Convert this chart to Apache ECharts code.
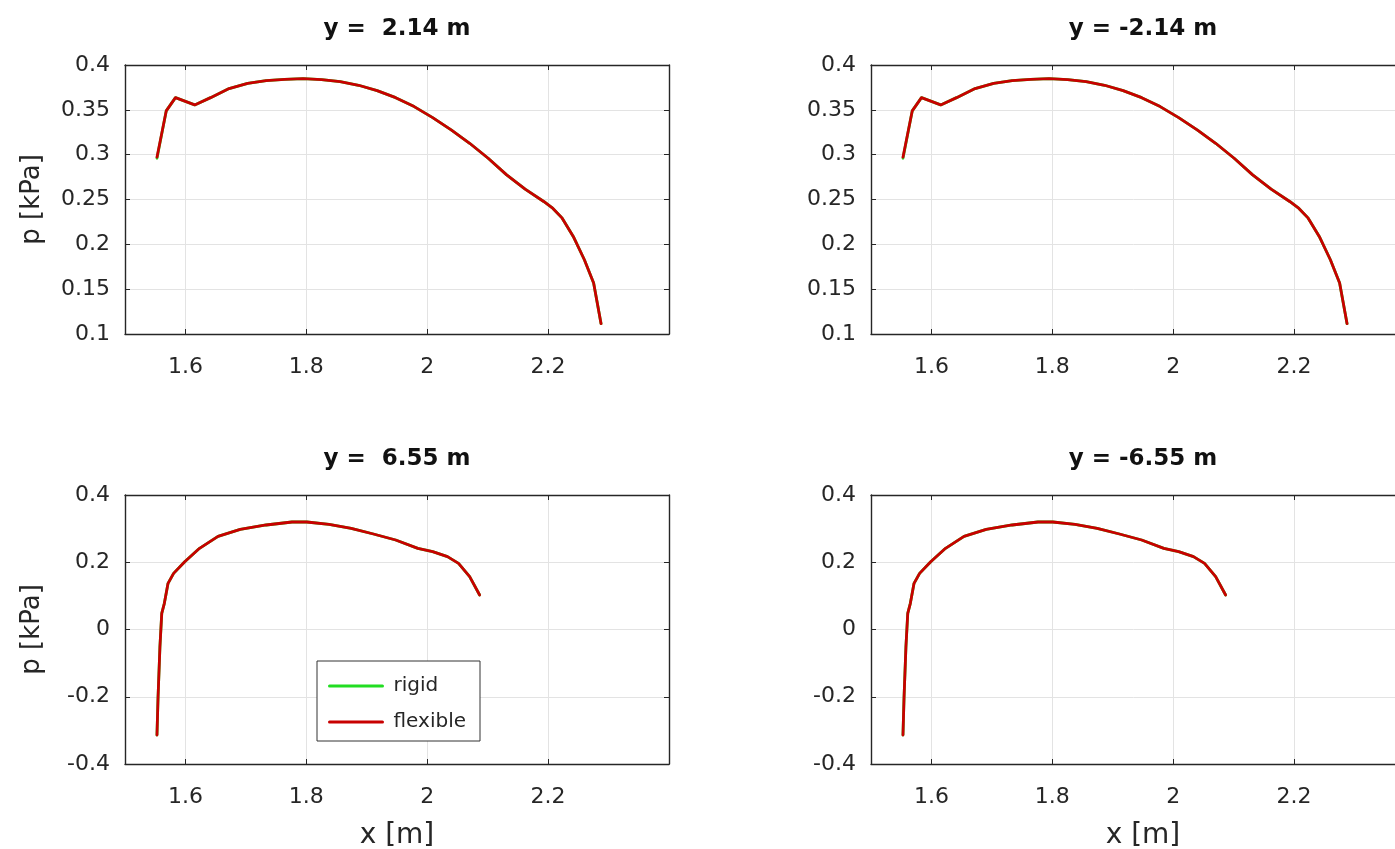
<!DOCTYPE html>
<html>
<head>
<meta charset="utf-8">
<script src="https://cdn.jsdelivr.net/npm/echarts@6/dist/echarts.min.js"></script>
<style>
html,body{margin:0;padding:0;background:#fff;}
#c{width:1395px;height:849px;}
</style>
</head>
<body>
<div id="c"></div>
<script>
// ---- data ----
// y = +/-2.14 m (upper panels)
const xUpper = [1.5529,1.5682,1.5835,1.6153,1.6416,1.6722,1.7029,1.7335,1.7641,1.7947,1.8253,1.8559,1.8865,1.9171,1.9478,1.9784,2.0090,2.0396,2.0702,2.1008,2.1314,2.1620,2.1927,2.2080,2.2233,2.2416,2.2600,2.2753,2.2876];
const pUpperFlexible = [0.2972,0.3488,0.3636,0.3555,0.3636,0.3737,0.3796,0.3826,0.3840,0.3848,0.3837,0.3814,0.3774,0.3714,0.3636,0.3536,0.3413,0.3276,0.3127,0.2960,0.2775,0.2615,0.2478,0.2400,0.2292,0.2088,0.1828,0.1568,0.1115];
const pUpperRigid    = [0.2960,0.3488,0.3636,0.3555,0.3636,0.3737,0.3796,0.3826,0.3840,0.3848,0.3837,0.3814,0.3774,0.3714,0.3636,0.3536,0.3413,0.3276,0.3127,0.2960,0.2775,0.2615,0.2478,0.2400,0.2292,0.2088,0.1828,0.1568,0.1115];
// y = +/-6.55 m (lower panels)
const xLower = [1.5529,1.5547,1.5578,1.5608,1.5651,1.5712,1.5804,1.5988,1.6233,1.6539,1.6906,1.7335,1.7763,1.8008,1.8376,1.8743,1.9110,1.9478,1.9845,2.0090,2.0335,2.0518,2.0702,2.0867];
const pLowerFlexible = [-0.3138,-0.1998,-0.0511,0.0481,0.0778,0.1373,0.1670,0.2017,0.2414,0.2771,0.2979,0.3108,0.3197,0.3197,0.3128,0.3009,0.2840,0.2662,0.2414,0.2315,0.2166,0.1968,0.1571,0.1026];
const pLowerRigid    = [-0.3138,-0.1998,-0.0511,0.0481,0.0778,0.1373,0.1670,0.2017,0.2414,0.2771,0.2979,0.3108,0.3197,0.3197,0.3128,0.3009,0.2840,0.2662,0.2414,0.2315,0.2166,0.1968,0.1571,0.1026];

const panelTitles = ['y =  2.14 m', 'y = -2.14 m', 'y =  6.55 m', 'y = -6.55 m'];
const xTickValues = [1.6, 1.8, 2, 2.2];
const xRange = [1.5, 2.4];
const yRangeUpper = [0.1, 0.4], yStepUpper = 0.05;
const yRangeLower = [-0.4, 0.4], yStepLower = 0.2;
const seriesNames = ['rigid', 'flexible'];
const xName = 'x [m]', yName = 'p [kPa]';

// ---- layout ----
const FONT = 'DejaVu Sans';
const frameColor = '#262626';
const gridColor = '#e3e3e3';
const panels = [
  {left:125, top:65,  x:xUpper, pf:pUpperFlexible, pr:pUpperRigid, yr:yRangeUpper, ys:yStepUpper, ylab:true,  xlab:false},
  {left:871, top:65,  x:xUpper, pf:pUpperFlexible, pr:pUpperRigid, yr:yRangeUpper, ys:yStepUpper, ylab:false, xlab:false},
  {left:125, top:495, x:xLower, pf:pLowerFlexible, pr:pLowerRigid, yr:yRangeLower, ys:yStepLower, ylab:true,  xlab:true},
  {left:871, top:495, x:xLower, pf:pLowerFlexible, pr:pLowerRigid, yr:yRangeLower, ys:yStepLower, ylab:false, xlab:true}
];
const W = 544, H = 269;

const grid = [], xAxis = [], yAxis = [], series = [], title = [];
panels.forEach((p, i) => {
  grid.push({left:p.left, top:p.top, width:W, height:H, outerBoundsMode:'none', containLabel:false});
  const tickCommon = {show:true, inside:true, length:5, lineStyle:{color:frameColor, width:1}};
  xAxis.push({
    type:'value', gridIndex:i, position:'bottom', min:xRange[0], max:xRange[1],
    name: p.xlab ? xName : '', nameLocation:'middle', nameGap:58,
    nameTextStyle:{fontFamily:FONT, fontSize:28, color:'#262626'},
    axisLine:{show:true, onZero:false, lineStyle:{color:frameColor, width:1.4}},
    axisTick:Object.assign({customValues:xTickValues}, tickCommon),
    axisLabel:{customValues:xTickValues, margin:22, fontFamily:FONT, fontSize:22, color:'#262626'},
    splitLine:{show:true, lineStyle:{color:gridColor, width:1}}
  });
  xAxis.push({
    type:'value', gridIndex:i, position:'top', min:xRange[0], max:xRange[1],
    axisLine:{show:true, onZero:false, lineStyle:{color:frameColor, width:1.4}},
    axisTick:Object.assign({customValues:xTickValues}, tickCommon),
    axisLabel:{show:false, customValues:xTickValues},
    splitLine:{show:false}
  });
  yAxis.push({
    type:'value', gridIndex:i, position:'left', min:p.yr[0], max:p.yr[1], interval:p.ys,
    name: p.ylab ? yName : '', nameLocation:'middle', nameGap:80,
    nameTextStyle:{fontFamily:FONT, fontSize:26, color:'#262626'},
    axisLine:{show:true, onZero:false, lineStyle:{color:frameColor, width:1.4}},
    axisTick:tickCommon,
    axisLabel:{margin:15, fontFamily:FONT, fontSize:22, color:'#262626'},
    splitLine:{show:true, lineStyle:{color:gridColor, width:1}}
  });
  yAxis.push({
    type:'value', gridIndex:i, position:'right', min:p.yr[0], max:p.yr[1], interval:p.ys,
    axisLine:{show:true, onZero:false, lineStyle:{color:frameColor, width:1.4}},
    axisTick:tickCommon,
    axisLabel:{show:false},
    splitLine:{show:false}
  });
  const xi = i*2, yi = i*2;
  series.push({
    name:seriesNames[0], type:'line', xAxisIndex:xi, yAxisIndex:yi,
    data:p.x.map((v,k)=>[v, p.pr[k]]), symbol:'none', showSymbol:false,
    lineStyle:{color:'#22dd22', width:2.8, join:'round', cap:'round'}, itemStyle:{color:'#22dd22'}, z:2, silent:true
  });
  series.push({
    name:seriesNames[1], type:'line', xAxisIndex:xi, yAxisIndex:yi,
    data:p.x.map((v,k)=>[v, p.pf[k]]), symbol:'none', showSymbol:false,
    lineStyle:{color:'#c80000', width:2.8, join:'round', cap:'round'}, itemStyle:{color:'#c80000'}, z:3, silent:true
  });
  title.push({
    text:panelTitles[i], left:p.left + W/2, top:p.top - 47, textAlign:'center', padding:0,
    textStyle:{fontFamily:FONT, fontSize:23, fontWeight:'bold', color:'#111'}
  });
});

const chart = echarts.init(document.getElementById('c'), null, {renderer:'canvas'});
chart.setOption({
  animation:false,
  backgroundColor:'#ffffff',
  title:title,
  grid:grid, xAxis:xAxis, yAxis:yAxis, series:series,
  legend:{
    data:seriesNames, orient:'vertical', left:317, top:661,
    padding:[15,14,9,11], itemGap:16, itemWidth:53, itemHeight:14,
    itemStyle:{opacity:0},
    lineStyle:{width:3},
    backgroundColor:'#ffffff', borderColor:'#333333', borderWidth:1, borderRadius:0,
    textStyle:{fontFamily:FONT, fontSize:20, color:'#262626', padding:[0,0,0,6]},
    selectedMode:false
  }
});
</script>
</body>
</html>
